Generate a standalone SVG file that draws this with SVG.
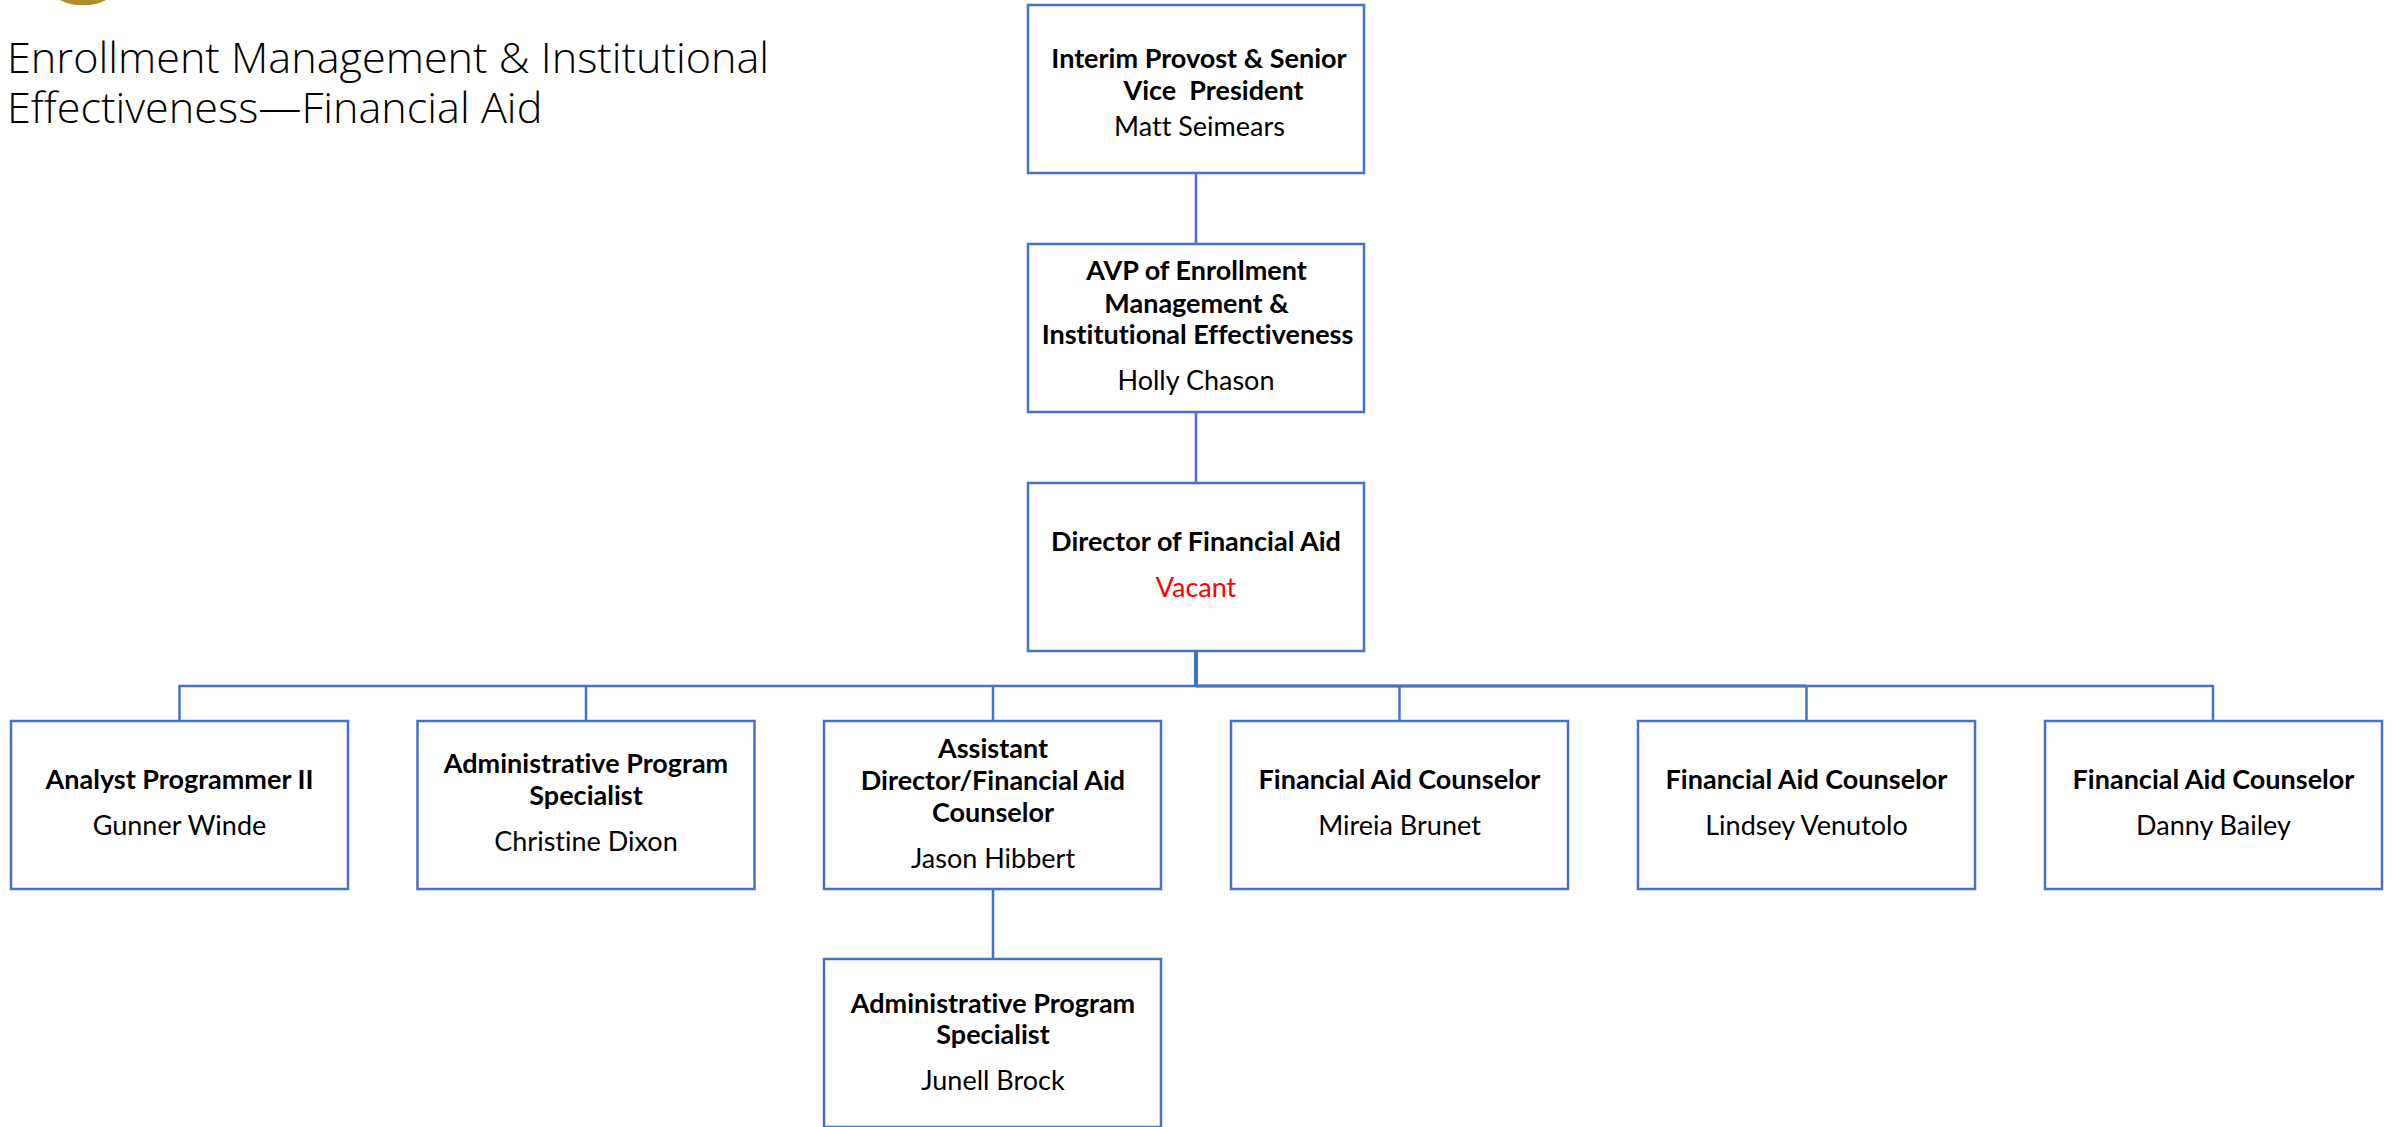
<svg xmlns="http://www.w3.org/2000/svg" width="2394" height="1127" viewBox="0 0 2394 1127">
<style>
text{font-family:"Lato","Carlito","Liberation Sans",sans-serif;fill:#000;text-anchor:middle;font-size:27px;font-variant-ligatures:none;white-space:pre}
.t{font-weight:700}
.v{fill:#f00}
.h{font-family:"Open Sans","Lato",sans-serif;font-weight:300;font-size:43.200px;text-anchor:start}
rect{fill:#fff;stroke:#4472c4;stroke-width:2.5}
.c path{fill:none;stroke:#4472c4;stroke-width:2.5}
.c .s{stroke-width:4}
.c .b{stroke-width:3}
</style>
<rect width="2394" height="1127" style="fill:#fff;stroke:none"/>
<g id="logo"><path d="M54 -6 C62 9 104 9 112 -6 L103 -6 C94 0 72 0 64 -6Z" style="fill:#b08d2e;stroke:none"/></g>
<g id="title"><text class="h"><tspan x="7" y="73">Enrollment Management &amp; Institutional</tspan><tspan x="7" y="123">Effectiveness—Financial Aid</tspan></text></g>
<g id="connectors" class="c">
<path d="M1196 173V244M1196 412V483M179.500 721V686H2213V721M586 686V721M993 686V721M1399.500 686V721M1806.500 686V721M993 889V959"/>
<path class="b" d="M1196 686H1806"/>
<path class="s" d="M1196 651V686"/>
</g>
<g id="n1"><rect x="1028" y="5" width="336" height="168"/><text class="t" x="1199" y="68">Interim Provost &amp; Senior</text><text class="t" x="1213.500" y="100">Vice  President</text><text x="1199.500" y="136">Matt Seimears</text></g>
<g id="n2"><rect x="1028" y="244" width="336" height="168"/><text class="t" x="1196.500" y="280">AVP of Enrollment</text><text class="t" x="1196.500" y="313">Management &amp;</text><text class="t" x="1197.500" y="344">Institutional Effectiveness</text><text x="1196" y="390">Holly Chason</text></g>
<g id="n3"><rect x="1028" y="483" width="336" height="168"/><text class="t" x="1196" y="551">Director of Financial Aid</text><text class="v" x="1196" y="597">Vacant</text></g>
<g id="n4"><rect x="11" y="721" width="337" height="168"/><text class="t" x="179.500" y="789">Analyst Programmer II</text><text x="179.500" y="835">Gunner Winde</text></g>
<g id="n5"><rect x="417.500" y="721" width="337" height="168"/><text class="t" x="586" y="773">Administrative Program</text><text class="t" x="586" y="805">Specialist</text><text x="586" y="851">Christine Dixon</text></g>
<g id="n6"><rect x="824" y="721" width="337" height="168"/><text class="t" x="993" y="758">Assistant</text><text class="t" x="993" y="790">Director/Financial Aid</text><text class="t" x="993" y="822">Counselor</text><text x="993" y="868">Jason Hibbert</text></g>
<g id="n7"><rect x="1231" y="721" width="337" height="168"/><text class="t" x="1399.500" y="789">Financial Aid Counselor</text><text x="1399.500" y="835">Mireia Brunet</text></g>
<g id="n8"><rect x="1638" y="721" width="337" height="168"/><text class="t" x="1806.500" y="789">Financial Aid Counselor</text><text x="1806.500" y="835">Lindsey Venutolo</text></g>
<g id="n9"><rect x="2045" y="721" width="337" height="168"/><text class="t" x="2213.500" y="789">Financial Aid Counselor</text><text x="2213.500" y="835">Danny Bailey</text></g>
<g id="n10"><rect x="824" y="959" width="337" height="168"/><text class="t" x="993" y="1013">Administrative Program</text><text class="t" x="993" y="1044">Specialist</text><text x="993" y="1090">Junell Brock</text></g>
</svg>
